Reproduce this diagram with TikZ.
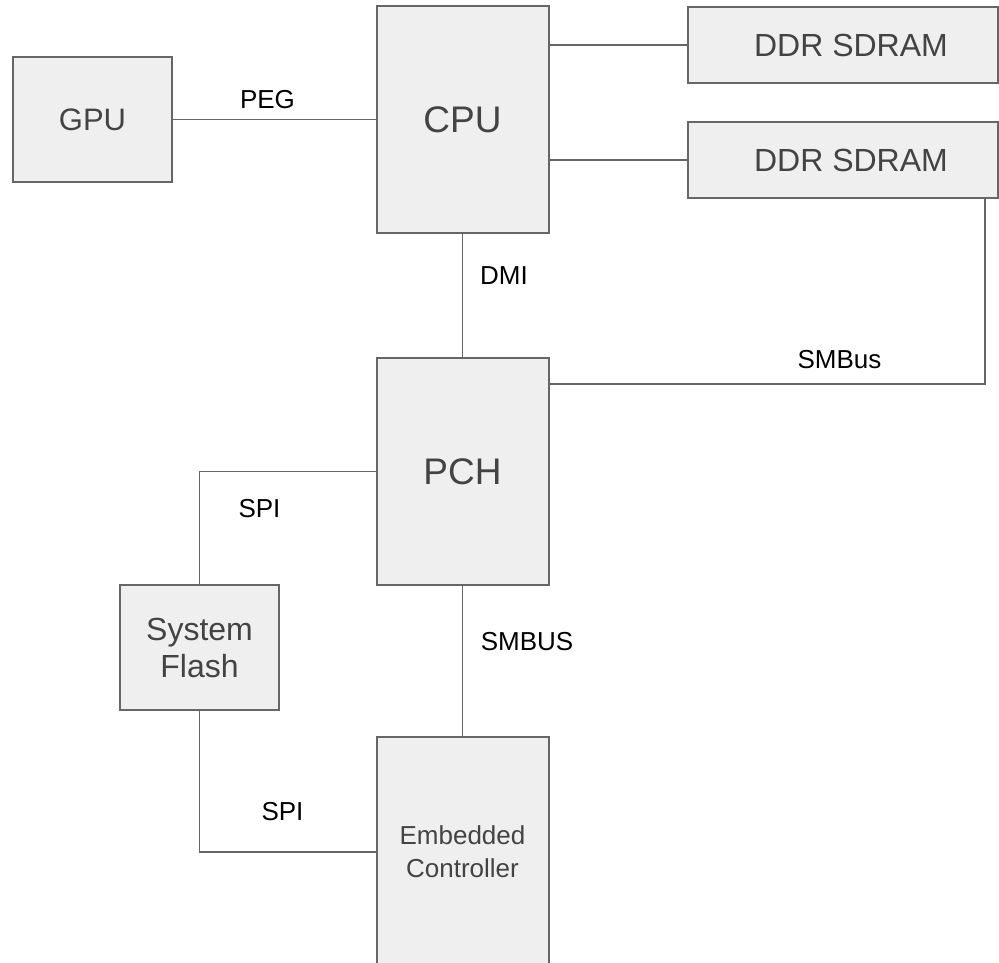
\documentclass[tikz,border=0pt]{standalone}
\usepackage{fontspec}
\setmainfont{Liberation Sans}
\definecolor{boxfill}{HTML}{EFEFEF}
\definecolor{boxline}{HTML}{666666}
\definecolor{boxtext}{HTML}{434343}
\begin{document}
\begin{tikzpicture}[x=1pt,y=-1pt,
  block/.style={draw=boxline, fill=boxfill, line width=2pt, rectangle,
    inner sep=0pt, align=center, text=boxtext},
  wire/.style={draw=boxline, line width=1.8pt},
  buslabel/.style={inner sep=0pt, text=black, font=\fontsize{26}{30}\selectfont}]
\useasboundingbox (0,0) rectangle (999,963);

% blocks
\node[block, minimum width=159pt, minimum height=125pt,
      font=\fontsize{31}{36}\selectfont] (gpu) at (92.5,119.5) {GPU};
\node[block, minimum width=172pt, minimum height=227pt,
      font=\fontsize{37}{42}\selectfont] (cpu) at (462.5,119.5) {CPU};
\node[block, minimum width=310pt, minimum height=76pt] (ddr1) at (843,45) {};
\node[text=boxtext, inner sep=0pt, font=\fontsize{32}{37}\selectfont]
      (ddr1t) at (851,45) {DDR SDRAM};
\node[block, minimum width=310pt, minimum height=76pt] (ddr2) at (843,160) {};
\node[text=boxtext, inner sep=0pt, font=\fontsize{32}{37}\selectfont]
      (ddr2t) at (851,160) {DDR SDRAM};
\node[block, minimum width=172pt, minimum height=227pt,
      font=\fontsize{37}{42}\selectfont] (pch) at (462.5,471.5) {PCH};
\node[block, minimum width=159pt, minimum height=125pt,
      font=\fontsize{32}{37}\selectfont] (flash) at (199.5,647.5) {System\\Flash};
\node[block, minimum width=172pt, minimum height=230pt,
      font=\fontsize{26}{33}\selectfont] (ec) at (462.5,852) {Embedded\\Controller};

% buses
\coordinate (smb) at (985,384);
\draw[wire] (gpu.east) -- (cpu.west);
\draw[wire] (cpu.east |- ddr1.west) -- (ddr1.west);
\draw[wire] (cpu.east |- ddr2.west) -- (ddr2.west);
\draw[wire] (cpu.south) -- (pch.north);
\draw[wire] (ddr2.south -| smb) |- (pch.east |- smb);
\draw[wire] (pch.west) -| (flash.north);
\draw[wire] (pch.south) -- (ec.north);
\draw[wire] (flash.south) |- (ec.west);

% bus names
\node[buslabel] (peg) at (267.5,99.5) {PEG};
\node[buslabel] (dmi) at (504,275.5) {DMI};
\node[buslabel] (smbus1) at (839.5,359.7) {SMBus};
\node[buslabel] (spi1) at (259.5,508.5) {SPI};
\node[buslabel] (smbus2) at (527,641.5) {SMBUS};
\node[buslabel] (spi2) at (282.5,811.5) {SPI};
\end{tikzpicture}
\end{document}
